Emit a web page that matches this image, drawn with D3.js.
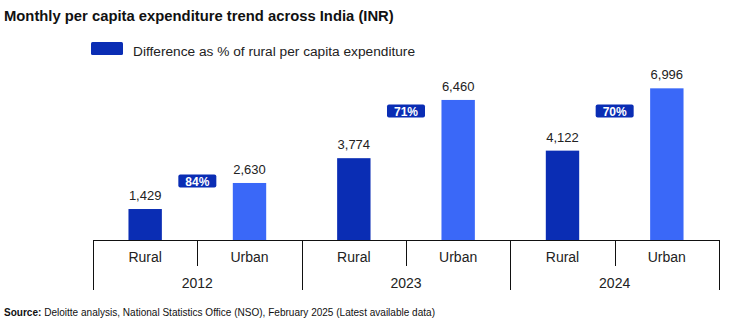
<!DOCTYPE html>
<html>
<head>
<meta charset="utf-8">
<script src="https://cdn.jsdelivr.net/npm/d3@7"></script>
<style>
  body { margin: 0; background: #fff; }
  svg { font-family: "Liberation Sans", Arial, sans-serif; }
</style>
</head>
<body>
<div id="chart"></div>
<script>
// data
var years = ["2012", "2023", "2024"];
var areas = ["Rural", "Urban"];
var rural = [1429, 3774, 4122];
var urban = [2630, 6460, 6996];
var diffPct = ["84%", "71%", "70%"];

var width = 739, height = 327;
var rowsY = 240;           // axis line
var colors = { Rural: "#0A2DB4", Urban: "#3A68F8" };
// vertical centre of each % badge (layout, not data)
var badgeY = [181, 111, 111];

var svg = d3.select("#chart").append("svg")
    .attr("width", width)
    .attr("height", height);

// flatten into one row per bar
var rows = [];
years.forEach(function (yr, i) {
    rows.push({ key: yr + "-Rural", year: yr, area: "Rural", value: rural[i] });
    rows.push({ key: yr + "-Urban", year: yr, area: "Urban", value: urban[i] });
});

var x = d3.scaleBand()
    .domain(rows.map(function (d) { return d.key; }))
    .range([93, 719])
    .paddingInner(0.68)
    .paddingOuter(0.34);

var bandStep = x.step();
var x0 = 93;

var y = d3.scaleLinear()
    .domain([0, 8000])
    .range([rowsY, rowsY - 8000 * 0.02168]);

// title
svg.append("text")
    .attr("x", 4)
    .attr("y", 21)
    .style("font-size", "14.8px")
    .style("font-weight", "bold")
    .style("fill", "#111")
    .text("Monthly per capita expenditure trend across India (INR)");

// legend
svg.append("rect")
    .attr("x", 91).attr("y", 42)
    .attr("width", 32).attr("height", 13)
    .attr("rx", 1.5)
    .attr("fill", colors.Rural);
svg.append("text")
    .attr("x", 133).attr("y", 55.5)
    .style("font-size", "13.7px")
    .style("fill", "#222")
    .text("Difference as % of rural per capita expenditure");

// bars
svg.selectAll("rect.bar")
    .data(rows)
    .enter()
    .append("rect")
    .attr("class", "bar")
    .attr("x", function (d) { return x(d.key); })
    .attr("width", x.bandwidth())
    .attr("y", function (d) { return y(d.value); })
    .attr("height", function (d) { return y(0) - y(d.value); })
    .attr("fill", function (d) { return colors[d.area]; });

// value labels
svg.selectAll("text.val")
    .data(rows)
    .enter()
    .append("text")
    .attr("class", "val")
    .attr("x", function (d) { return x(d.key) + x.bandwidth() / 2; })
    .attr("y", function (d) { return y(d.value) - 9; })
    .style("text-anchor", "middle")
    .style("font-size", "13px")
    .style("fill", "#222")
    .text(function (d) { return d3.format(",")(d.value); });

// % badges, centred on the rural/urban split of each year
years.forEach(function (yr, i) {
    var cx = x0 + bandStep * (i * 2 + 1);
    var g = svg.append("g").attr("transform", "translate(" + cx + "," + badgeY[i] + ")");
    g.append("rect")
        .attr("x", -19).attr("y", -6.5)
        .attr("width", 38).attr("height", 13)
        .attr("rx", 2)
        .attr("fill", colors.Rural);
    g.append("text")
        .attr("y", 4.5)
        .style("text-anchor", "middle")
        .style("font-size", "12px")
        .style("font-weight", "bold")
        .style("fill", "#fff")
        .text(diffPct[i]);
});

// category axis: baseline, separators and labels
var axis = svg.append("g").attr("stroke", "#111").attr("stroke-width", 1);
axis.append("line")
    .attr("x1", x0).attr("x2", x0 + bandStep * 6)
    .attr("y1", rowsY + 0.5).attr("y2", rowsY + 0.5);

for (var k = 0; k <= 6; k++) {
    var lx = Math.round(x0 + bandStep * k) + 0.5;
    axis.append("line")
        .attr("x1", lx).attr("x2", lx)
        .attr("y1", rowsY)
        .attr("y2", k % 2 === 0 ? 290 : 266);
}

svg.selectAll("text.cat")
    .data(rows)
    .enter()
    .append("text")
    .attr("class", "cat")
    .attr("x", function (d) { return x(d.key) + x.bandwidth() / 2; })
    .attr("y", 262)
    .style("text-anchor", "middle")
    .style("font-size", "14px")
    .style("fill", "#222")
    .text(function (d) { return d.area; });

svg.selectAll("text.year")
    .data(years)
    .enter()
    .append("text")
    .attr("class", "year")
    .attr("x", function (d, i) { return x0 + bandStep * (i * 2 + 1); })
    .attr("y", 288)
    .style("text-anchor", "middle")
    .style("font-size", "14px")
    .style("fill", "#222")
    .text(function (d) { return d; });

// source line
var src = svg.append("text")
    .attr("x", 4).attr("y", 315.5)
    .attr("textLength", 431)
    .attr("lengthAdjust", "spacingAndGlyphs")
    .style("font-family", "'Liberation Sans Narrow', 'Liberation Sans', Arial, sans-serif")
    .style("font-size", "11px")
    .style("fill", "#111");
src.append("tspan").style("font-weight", "bold").text("Source:");
src.append("tspan").text(" Deloitte analysis, National Statistics Office (NSO), February 2025 (Latest available data)");
</script>
</body>
</html>
